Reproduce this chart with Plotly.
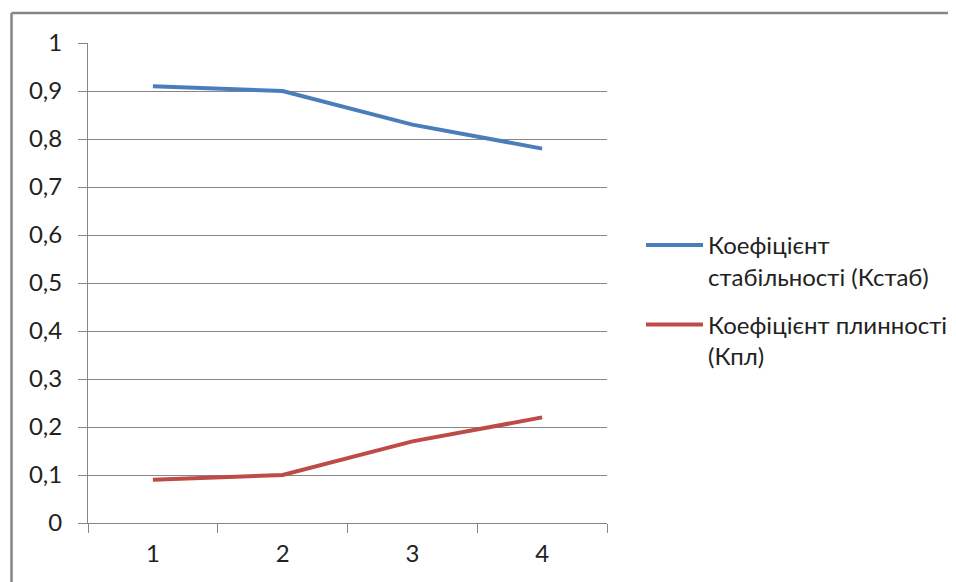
import plotly.graph_objects as go

categories = ["1", "2", "3", "4"]
k_stab = [0.91, 0.90, 0.83, 0.78]
k_pl = [0.09, 0.10, 0.17, 0.22]
name_stab = "Коефіцієнт<br>стабільності (Кстаб)"
name_pl = "Коефіцієнт плинності<br>(Кпл)"
y_ticks = [0, 0.1, 0.2, 0.3, 0.4, 0.5, 0.6, 0.7, 0.8, 0.9, 1]

# page has an 8px body margin; figure is placed at (8, 8) on the page
OFF = 8
W, H = 956 - OFF, 582 - OFF
L, R, T, B = 88 - OFF, 349, 43 - OFF, 59
pw, ph = W - L - R, H - T - B

def px_x(p):
    return (p - OFF - L) / pw

def px_y(p):
    return (H - B - (p - OFF)) / ph

FONT = "Lato"
GRID = "#868686"
FS = 24

fig = go.Figure()
fig.add_trace(go.Scatter(x=categories, y=k_stab, mode="lines", name=name_stab,
                         legendgroup="a",
                         line=dict(color="#4A7EBB", width=4)))
fig.add_trace(go.Scatter(x=categories, y=k_pl, mode="lines", name=name_pl,
                         legendgroup="b",
                         line=dict(color="#BE4B48", width=4)))

border = dict(color="#868686", width=2.5)
fig.update_layout(
    width=W, height=H,
    margin=dict(l=L, r=R, t=T, b=B, autoexpand=False),
    paper_bgcolor="white", plot_bgcolor="white",
    separators=", ",
    font=dict(family=FONT, size=FS, color="#222222"),
    showlegend=True,
    legend=dict(x=px_x(641), y=px_y(223), xanchor="left", yanchor="top",
                valign="top", itemwidth=57, traceorder="grouped", tracegroupgap=14,
                font=dict(family=FONT, size=FS, color="#222222"),
                bgcolor="rgba(0,0,0,0)"),
    xaxis=dict(type="category", range=[-0.5, 3.5], tickson="boundaries",
               ticks="outside", ticklen=9,
               tickcolor=GRID, showline=True, linecolor=GRID, linewidth=1,
               showgrid=False, zeroline=False, ticklabelstandoff=9,
               fixedrange=True),
    yaxis=dict(range=[0, 1], tickvals=y_ticks, ticks="outside", ticklen=9,
               tickcolor=GRID, showline=True, linecolor=GRID, linewidth=1,
               showgrid=True, gridcolor=GRID, gridwidth=1, zeroline=False,
               ticklabelstandoff=11, fixedrange=True),
    shapes=[
        dict(type="line", xref="paper", yref="paper",
             x0=px_x(11.5), x1=px_x(1000), y0=px_y(13), y1=px_y(13),
             line=border, layer="below"),
        dict(type="line", xref="paper", yref="paper",
             x0=px_x(11.5), x1=px_x(11.5), y0=px_y(13), y1=px_y(640),
             line=border, layer="below"),
    ],
)

fig.write_html("out.html", config={"displayModeBar": False})
